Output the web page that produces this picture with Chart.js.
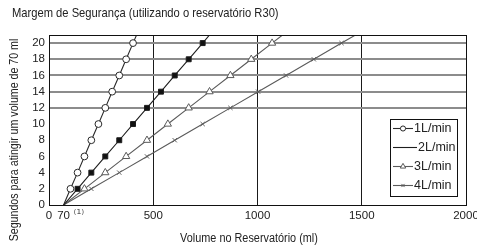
<!DOCTYPE html>
<html>
<head>
<meta charset="utf-8">
<script src="https://cdn.jsdelivr.net/npm/chart.js@4/dist/chart.umd.min.js"></script>
<style>
  html, body { margin: 0; padding: 0; background: #fff; }
  #wrap { width: 477px; height: 245px; }
</style>
</head>
<body>
<div id="wrap"><canvas id="c" width="477" height="245"></canvas></div>
<script>
// seconds to reach 70 ml (y), one entry per point, last one is where the line leaves the frame
const seconds = [0, 2, 4, 6, 8, 10, 12, 14, 16, 18, 20, 21];
// reservoir volume (ml)
const vol1 = [70, 103, 137, 170, 203, 237, 270, 303, 337, 370, 403, 420];
const vol2 = [70, 137, 203, 270, 337, 403, 470, 537, 603, 670, 737, 770];
const vol3 = [70, 170, 270, 370, 470, 570, 670, 770, 870, 970, 1070, 1120];
const vol4 = [70, 203, 337, 470, 603, 737, 870, 1003, 1137, 1270, 1403, 1470];
const seriesNames = ['1L/min', '2L/min', '3L/min', '4L/min'];
const xTicks = [0, 70, 500, 1000, 1500, 2000];
const yTicks = [0, 2, 4, 6, 8, 10, 12, 14, 16, 18, 20];

const FONT = "'Liberation Sans', Arial, sans-serif";

function pts(xs) {
  return xs.map((x, i) => ({ x: x, y: seconds[i] }));
}
function markerOnly(r) {
  return (c) => (c.dataIndex === 0 || c.dataIndex === seconds.length - 1) ? 0 : r;
}

const styles = [
  { color: '#2a2a2a', pointStyle: 'circle', radius: 3.4, fill: '#ffffff' },
  { color: '#1e1e1e', pointStyle: 'rect', radius: 3.5, fill: '#111111' },
  { color: '#5a5a5a', pointStyle: 'triangle', radius: 4.2, fill: '#ffffff' },
  { color: '#5a5a5a', pointStyle: 'crossRot', radius: 3, fill: '#5a5a5a' }
];

const datasets = [vol1, vol2, vol3, vol4].map((v, i) => ({
  label: seriesNames[i],
  data: pts(v),
  borderColor: styles[i].color,
  borderWidth: 1.1,
  pointStyle: styles[i].pointStyle,
  pointRadius: markerOnly(styles[i].radius),
  pointHoverRadius: 0,
  pointBackgroundColor: styles[i].fill,
  pointBorderColor: styles[i].color,
  pointBorderWidth: 1,
  tension: 0
}));

// text squeezed horizontally, the source uses a narrow face
function narrowText(ctx, text, x, y, size, squeeze, align) {
  ctx.save();
  ctx.translate(x, y);
  ctx.scale(squeeze, 1);
  ctx.font = size + "px " + FONT;
  ctx.textAlign = align;
  ctx.textBaseline = 'middle';
  ctx.fillText(text, 0, 0);
  ctx.restore();
}

const extras = {
  id: 'extras',
  afterDraw(chart) {
    const ctx = chart.ctx;
    const a = chart.chartArea;
    ctx.save();
    // frame
    ctx.strokeStyle = '#111';
    ctx.lineWidth = 1;
    ctx.strokeRect(Math.round(a.left) + 0.5, Math.round(a.top) + 0.5,
      Math.round(a.right - a.left), Math.round(a.bottom - a.top));

    ctx.fillStyle = '#222';
    narrowText(ctx, 'Margem de Segurança (utilizando o reservatório R30)', 12, 13, 13, 0.86, 'left');
    narrowText(ctx, 'Volume no Reservatório (ml)', 249, 239, 12.5, 0.87, 'center');

    // y title
    ctx.save();
    ctx.translate(15, 140);
    ctx.rotate(-Math.PI / 2);
    narrowText(ctx, 'Segundos para atingir um volume de 70 ml', 0, 0, 12.5, 0.85, 'center');
    ctx.restore();

    // footnote mark next to the 70 tick
    const x70 = chart.scales.x.getPixelForValue(70);
    ctx.fillStyle = '#555';
    ctx.font = "12px 'DejaVu Sans', sans-serif";
    ctx.textAlign = 'left';
    ctx.textBaseline = 'middle';
    ctx.fillText('⁽¹⁾', x70 + 10, 215);

    // legend
    const lx = 390, ly = 119, lw = 67, lh = 77;
    ctx.fillStyle = '#fff';
    ctx.fillRect(lx, ly, lw, lh);
    ctx.strokeStyle = '#111';
    ctx.lineWidth = 1;
    ctx.strokeRect(lx + 0.5, ly + 0.5, lw, lh);
    ctx.font = "12.5px " + FONT;
    ctx.textAlign = 'left';
    chart.data.datasets.forEach((ds, i) => {
      const y = 128 + i * 19;
      const x0 = 393, x1 = i === 1 ? 417 : 413;
      ctx.strokeStyle = styles[i].color;
      ctx.lineWidth = 1.1;
      ctx.beginPath();
      ctx.moveTo(x0, y + 0.5);
      ctx.lineTo(x1, y + 0.5);
      ctx.stroke();
      if (i !== 1) {
        ctx.fillStyle = styles[i].fill;
        ctx.strokeStyle = styles[i].color;
        ctx.lineWidth = 1;
        Chart.helpers.drawPoint(ctx, {
          pointStyle: styles[i].pointStyle,
          radius: styles[i].radius * 0.75,
          borderWidth: 1
        }, (x0 + x1) / 2, y + 0.5);
      }
      ctx.fillStyle = '#222';
      ctx.fillText(ds.label, x1 + 1, y + 1);
    });
    ctx.restore();
  }
};

new Chart(document.getElementById('c'), {
  type: 'line',
  data: { datasets: datasets },
  options: {
    responsive: false,
    animation: false,
    events: [],
    layout: { padding: { left: 0, right: 11, top: 35, bottom: 0 } },
    plugins: {
      legend: { display: false },
      tooltip: { enabled: false },
      title: { display: false }
    },
    scales: {
      x: {
        type: 'linear',
        min: 0,
        max: 2000,
        afterBuildTicks: (s) => { s.ticks = xTicks.map(v => ({ value: v })); },
        afterFit: (s) => { s.height = 40; s.paddingLeft = 0; s.paddingRight = 0; },
        border: { display: false },
        grid: {
          drawTicks: false,
          color: (c) => [500, 1000, 1500].includes(c.tick.value) ? '#1a1a1a' : 'rgba(0,0,0,0)',
          lineWidth: 1
        },
        ticks: {
          autoSkip: false,
          maxRotation: 0,
          padding: 4,
          color: '#222',
          font: { family: FONT, size: 11.5 },
          callback: (v) => String(v)
        }
      },
      y: {
        min: 0,
        max: 21,
        afterBuildTicks: (s) => { s.ticks = yTicks.map(v => ({ value: v })); },
        afterFit: (s) => { s.width = 49; },
        border: { display: false },
        grid: {
          drawTicks: false,
          color: (c) => c.tick.value >= 12 ? '#8c8c8c' : 'rgba(0,0,0,0)',
          lineWidth: 2
        },
        ticks: {
          autoSkip: false,
          padding: 4,
          color: '#222',
          font: { family: FONT, size: 11.5 },
          callback: (v) => String(v)
        }
      }
    }
  },
  plugins: [extras]
});
</script>
</body>
</html>
